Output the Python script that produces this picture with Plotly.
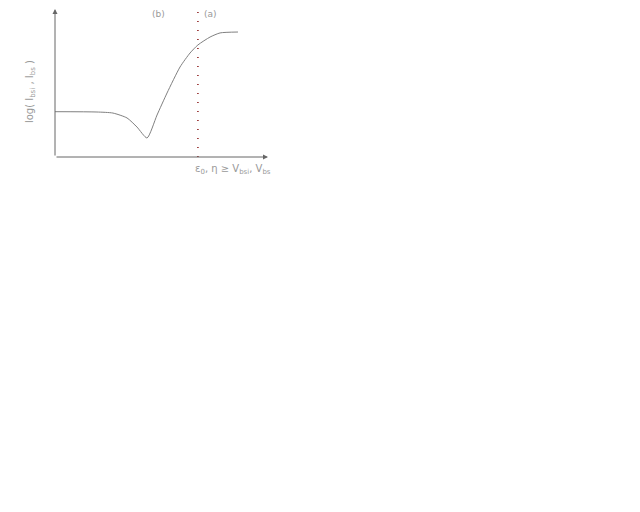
import plotly.graph_objects as go

# curve data (arbitrary units)
curve_x = [0.0, 1.97, 2.72, 3.38, 3.85, 4.32, 4.79, 5.26, 5.87, 6.34, 6.71, 7.28, 7.75, 8.59]
curve_y = [2.98, 2.96, 2.89, 2.57, 1.97, 1.25, 2.76, 4.21, 5.92, 6.84, 7.37, 7.89, 8.16, 8.22]
boundary_x = 6.71
region_labels = ["(b)", "(a)"]
region_label_x = [4.84, 7.32]
x_title = "ε<sub>0</sub>, η ≥ V<sub>bsi</sub>, V<sub>bs</sub>"
y_title = "log( I<sub>bsi</sub> , I<sub>bs</sub> )"

fig = go.Figure()
fig.add_trace(go.Scatter(x=curve_x, y=curve_y, mode="lines",
                         line=dict(color="#808080", width=1, shape="spline", smoothing=0.6),
                         showlegend=False, hoverinfo="skip"))

fig.add_shape(type="line", x0=boundary_x, x1=boundary_x, y0=0, y1=1, xref="x", yref="paper",
              line=dict(color="#8b1a1a", width=1.5, dash="1px,8px"))

# axes with arrows
fig.add_annotation(x=10, y=0, ax=0, ay=0, xref="x", yref="y", axref="x", ayref="y", text="",
                   showarrow=True, arrowhead=2, arrowsize=1, arrowwidth=1, arrowcolor="#666666")
fig.add_annotation(x=0, y=1.02, xref="x", yref="paper", ax=0, ay=152, text="",
                   showarrow=True, arrowhead=2, arrowsize=1, arrowwidth=1, arrowcolor="#666666")

for t, xx in zip(region_labels, region_label_x):
    fig.add_annotation(x=xx, y=9.41, xref="x", yref="y", text=t, showarrow=False,
                       font=dict(size=9, color="#999999", family="DejaVu Sans"))

fig.add_annotation(x=0.648, y=-0.087, xref="paper", yref="paper", text=x_title, showarrow=False,
                   xanchor="left", yanchor="middle",
                   font=dict(size=10, color="#999999", family="DejaVu Sans"))
fig.add_annotation(x=-0.117, y=0.436, xref="paper", yref="paper", text=y_title, showarrow=False,
                   textangle=-90, xanchor="center", yanchor="middle",
                   font=dict(size=10, color="#999999", family="DejaVu Sans"))

fig.update_layout(
    width=640, height=512,
    margin=dict(l=47, r=380, t=0, b=363, autoexpand=False),
    paper_bgcolor="white", plot_bgcolor="white",
    xaxis=dict(range=[0, 10], visible=False, fixedrange=True),
    yaxis=dict(range=[0, 9.80], visible=False, fixedrange=True),
)

fig.write_html("out.html")
